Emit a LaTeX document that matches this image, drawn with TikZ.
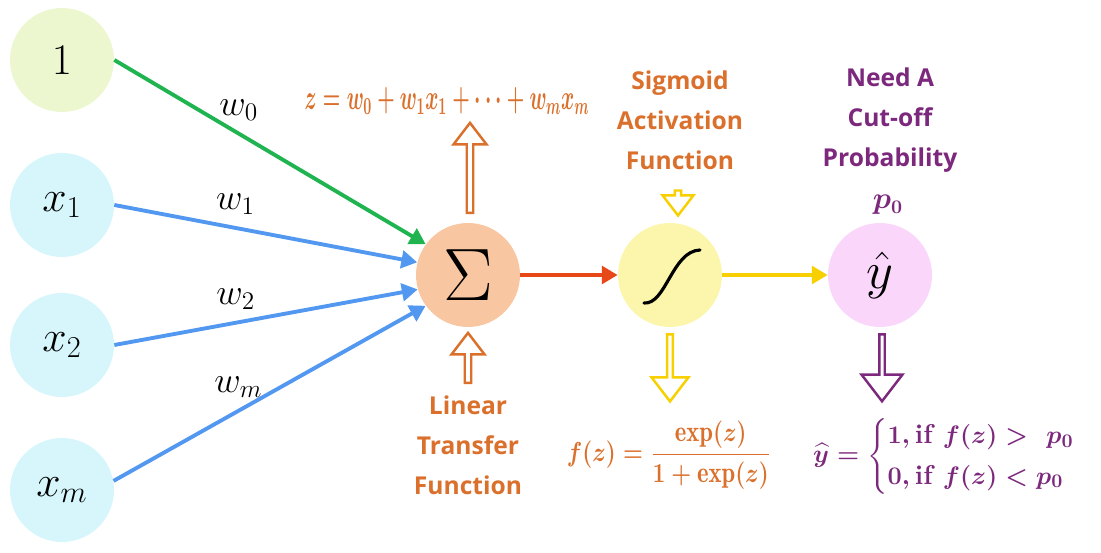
\documentclass[tikz,border=0pt]{standalone}
\usepackage{amsmath,graphicx,fontspec}
\usetikzlibrary{arrows.meta,positioning,shapes.arrows}
\setsansfont{Open Sans}
\definecolor{nnone}{RGB}{236,247,208}
\definecolor{nninput}{RGB}{214,246,252}
\definecolor{nnsum}{RGB}{248,198,160}
\definecolor{nnsig}{RGB}{252,246,172}
\definecolor{nnout}{RGB}{250,214,250}
\definecolor{nngreen}{RGB}{32,180,80}
\definecolor{nnblue}{RGB}{82,152,240}
\definecolor{nnred}{RGB}{232,72,24}
\definecolor{nnyellow}{RGB}{248,208,0}
\definecolor{nnorange}{RGB}{218,112,44}
\definecolor{nnpurple}{RGB}{124,40,124}

\begin{document}
\begin{tikzpicture}[x=0.02cm,y=-0.02cm,
  unit/.style={circle,minimum size=2.08cm,inner sep=0pt,font=\fontsize{24}{28}\selectfont},
  wire/.style={line width=2.2pt,-{Triangle[length=9pt,width=10pt]}},
  wlabel/.style={font=\fontsize{21}{24}\selectfont,above=3pt,pos=0.4},
  hollow/.style={single arrow,draw,line width=1.4pt,fill=white,inner sep=0pt,
    single arrow tip angle=75,single arrow head extend=0.1cm},
  tag/.style={align=center,font=\sffamily\bfseries\fontsize{14}{22.7}\selectfont}
]
\useasboundingbox (0,0) rectangle (1101,553);
% inputs
\node[unit,fill=nnone] (one) at (62,60) {$1$};
\node[unit,fill=nninput] (x1) at (62,205) {$x_1$};
\node[unit,fill=nninput] (x2) at (62,345) {$x_2$};
\node[unit,fill=nninput] (xm) at (62,490) {$x_m$};
% neurons
\node[unit,fill=nnsum] (sum) at (468,275) {\scalebox{1.7}{$\Sigma$}};
\node[unit,fill=nnsig] (sig) at (670,275) {};
\node[unit,fill=nnout] (yhat) at (880,275) {\scalebox{1.2}{$\hat{y}$}};
\draw[line width=1.8pt,line cap=round] ([shift={(-26,28)}]sig.center)
  .. controls ([shift={(-4,30)}]sig.center) and ([shift={(2,-24)}]sig.center) .. ([shift={(30,-25)}]sig.center);
% weights
\draw[wire,nngreen] (one.east) -- (sum.144) node[wlabel,black] {$w_0$};
\draw[wire,nnblue] (x1.east) -- (sum.166) node[wlabel,black] {$w_1$};
\draw[wire,nnblue] (x2.east) -- (sum.196) node[wlabel,black] {$w_2$};
\draw[wire,nnblue] (xm.10) -- (sum.216) node[wlabel,black] {$w_m$};
\draw[wire,nnred] (sum) -- (sig);
\draw[wire,nnyellow] (sig) -- (yhat);
% hollow arrows
\node[hollow,draw=nnorange,rotate=90,minimum height=1.8cm,minimum width=0.66cm] (sumup) at (470,170) {};
\node[hollow,draw=nnorange,rotate=90,minimum height=1.0cm,minimum width=0.66cm] (sumin) at (468,360) {};
\node[hollow,draw=nnyellow,rotate=-90,minimum height=0.5cm,minimum width=0.62cm] (sigin) at (678,201) {};
\node[hollow,draw=nnyellow,rotate=-90,minimum height=1.34cm,minimum width=0.74cm,single arrow head extend=0.13cm] (sigout) at (670,366) {};
\node[hollow,draw=nnpurple,rotate=-90,minimum height=1.34cm,minimum width=0.82cm,single arrow head extend=0.16cm] (yout) at (882,366) {};
% texts
\node[tag,nnorange] (lintag) at (468,445) {Linear\\Transfer\\Function};
\node[tag,nnorange] (sigtag) at (680,120) {Sigmoid\\Activation\\Function};
\node[tag,nnpurple] (cuttag) at (890,120) {Need A\\Cut-off\\Probability};
\node[nnpurple,font=\fontsize{16}{18}\selectfont] (ptag) at (888,205) {$\boldsymbol{p_0}$};
\node[nnorange,font=\boldmath\fontsize{14}{18}\selectfont] (zeq) at (447,101)
  {\resizebox{5.7cm}{0.44cm}{$z=w_0+w_1x_1+\cdots+w_mx_m$}};
\node[nnorange,font=\boldmath\fontsize{13}{18}\selectfont] (feq) at (669,455)
  {\scalebox{1.08}[1.3]{$f(z)=\dfrac{\exp(z)}{1+\exp(z)}$}};
\node[nnpurple,font=\bfseries\boldmath\fontsize{15.5}{19}\selectfont] (yeq) at (958,456)
  {$\widehat{y}=\begin{cases}1,\text{if } f(z)>\ p_0\\0,\text{if } f(z)<p_0\end{cases}$};
\end{tikzpicture}
\end{document}
